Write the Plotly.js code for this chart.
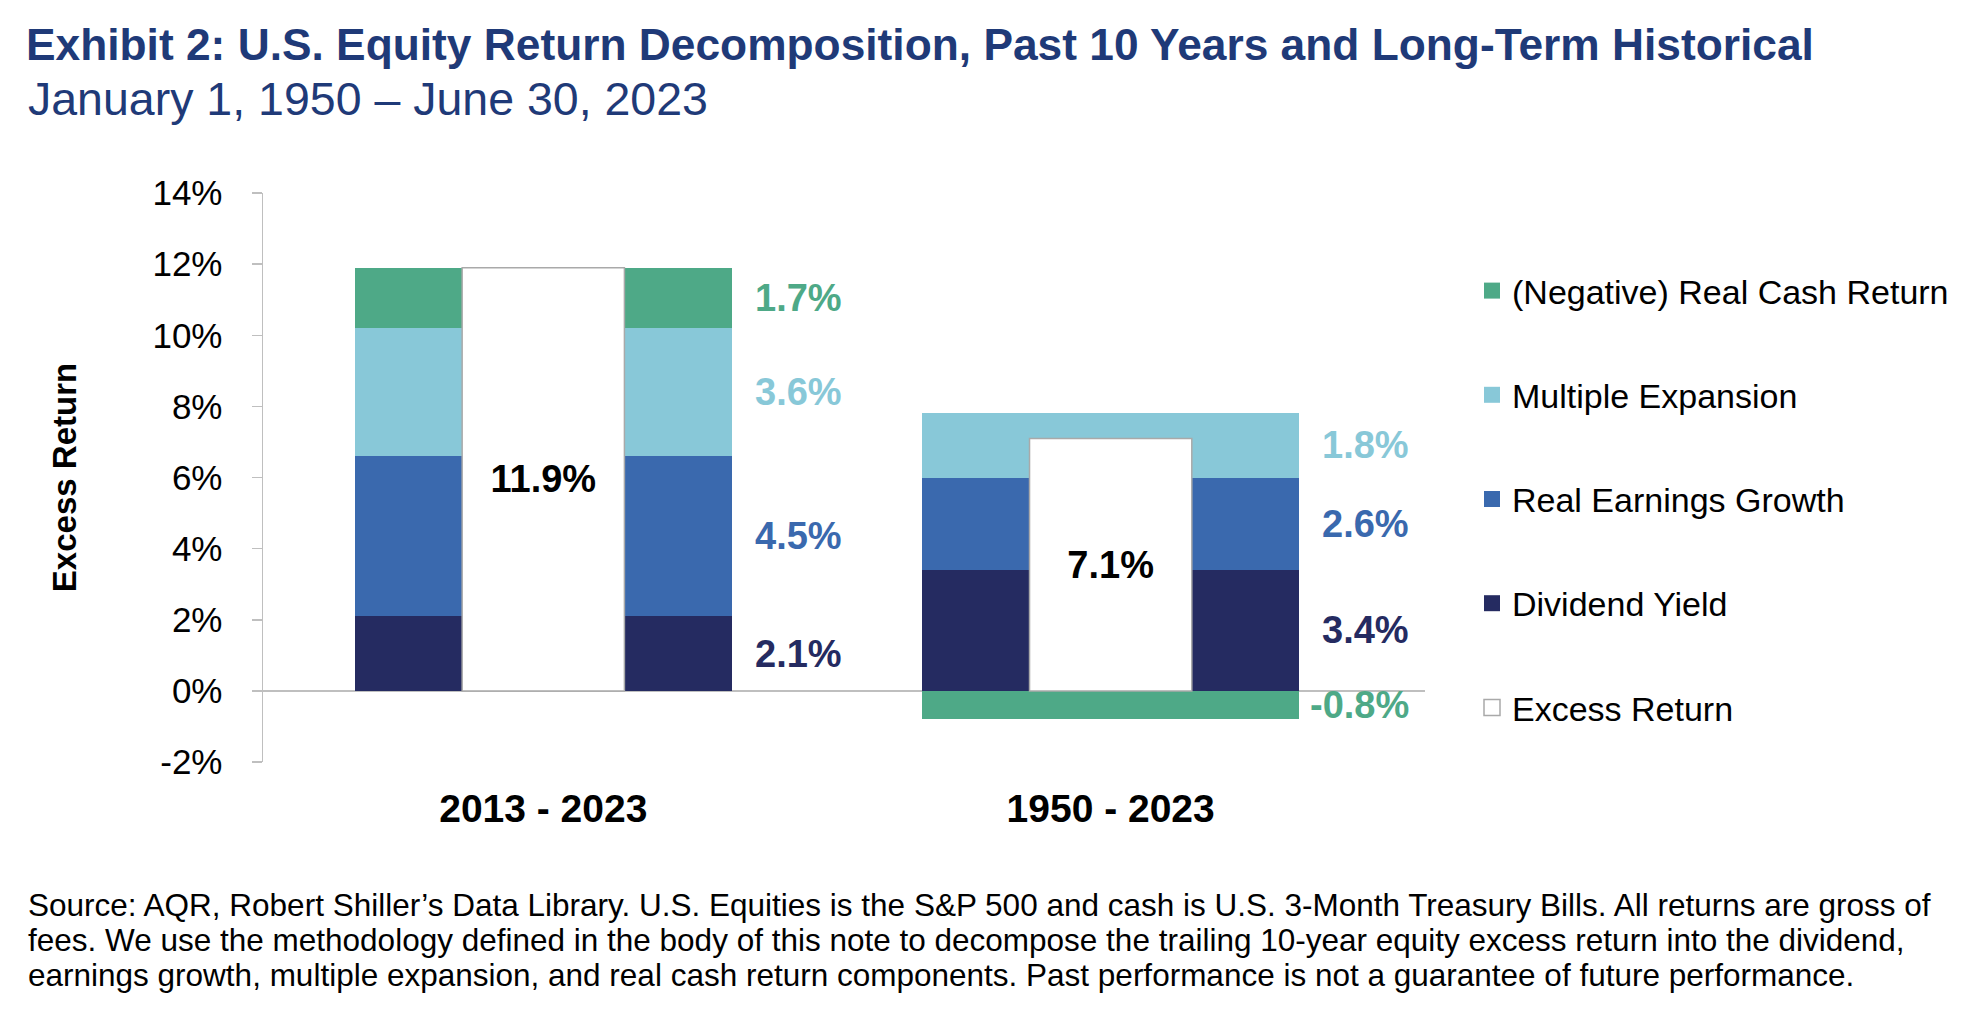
<!DOCTYPE html>
<html>
<head>
<meta charset="utf-8">
<script src="https://cdn.plot.ly/plotly-3.0.1.min.js"></script>
<style>
  html, body { margin: 0; padding: 0; background: #ffffff; }
  #chart { width: 1982px; height: 1020px; }
</style>
</head>
<body>
<div id="chart"></div>
<script>
// ---- Data ----
var categories = ['2013 - 2023', '1950 - 2023'];
var dividendYield = [2.1, 3.4];
var realEarningsGrowth = [4.5, 2.6];
var multipleExpansion = [3.6, 1.8];
var realCashReturn = [1.7, -0.8];
var excessReturn = [11.9, 7.1];
var yTickVals = [-2, 0, 2, 4, 6, 8, 10, 12, 14];
var yTickText = ['-2%', '0%', '2%', '4%', '6%', '8%', '10%', '12%', '14%'];

// ---- Styling ----
var C_CASH = '#4ea987';
var C_MULT = '#88c8d8';
var C_EARN = '#3a69ae';
var C_DIV = '#252b61';
var TITLE_COLOR = '#1f3a78';
var FONT = 'Liberation Sans, Arial, sans-serif';

var W = 1982, H = 1020;
var M = { l: 263, r: 557, t: 193, b: 258 };
var X_RANGE = [-0.494, 1.554];
var FULL_W = 0.664, MID_W = 0.286;
var LABEL_DX = 0.53;
var LABEL_SIZE = 38;

function pxToPaperX(px) { return (px - M.l) / (W - M.l - M.r); }
function pxToPaperY(py) { return (H - M.b - py) / (H - M.t - M.b); }

var xIdx = categories.map(function (c, i) { return i; });

function compTrace(name, vals, color) {
  return {
    type: 'bar', name: name, x: xIdx, y: vals,
    width: vals.map(function () { return FULL_W; }),
    marker: { color: color, line: { width: 0 } },
    showlegend: false, hoverinfo: 'skip', xaxis: 'x', yaxis: 'y'
  };
}

var tDiv = compTrace('Dividend Yield', dividendYield, C_DIV);
var tEarn = compTrace('Real Earnings Growth', realEarningsGrowth, C_EARN);
var tMult = compTrace('Multiple Expansion', multipleExpansion, C_MULT);
var tCash = compTrace('(Negative) Real Cash Return', realCashReturn, C_CASH);

// Excess return bar, overlaid in the middle of each stack (own overlay axis so it does not stack)
var tExcess = {
  type: 'bar', name: 'Excess Return', x: xIdx, y: excessReturn,
  width: excessReturn.map(function () { return MID_W; }),
  marker: { color: '#ffffff', line: { color: '#a9a9a9', width: 1.5 } },
  text: excessReturn.map(function (v) { return v.toFixed(1) + '%'; }),
  textposition: 'inside', insidetextanchor: 'middle', textangle: 0,
  textfont: { family: FONT, size: LABEL_SIZE, color: '#000000', weight: 'bold' },
  showlegend: false, hoverinfo: 'skip', xaxis: 'x2', yaxis: 'y'
};

// legend entries (larger square swatches)
function legendItem(name, color, rank, lineColor) {
  return {
    type: 'scatter', mode: 'markers', name: name, x: [null], y: [null],
    marker: { symbol: 'square', size: 16, color: color,
      line: { color: lineColor || color, width: lineColor ? 1.5 : 0 } },
    legendgroup: name, legendrank: rank, hoverinfo: 'skip'
  };
}
var legendTraces = [
  legendItem('(Negative) Real Cash Return', C_CASH, 1),
  legendItem('Multiple Expansion', C_MULT, 2),
  legendItem('Real Earnings Growth', C_EARN, 3),
  legendItem('Dividend Yield', C_DIV, 4),
  legendItem('Excess Return', '#ffffff', 5, '#a9a9a9')
];

// segment labels to the right of each group
var annotations = [];
categories.forEach(function (c, i) {
  var segs = [
    { v: dividendYield[i], col: C_DIV },
    { v: realEarningsGrowth[i], col: C_EARN },
    { v: multipleExpansion[i], col: C_MULT }
  ];
  var base = 0;
  segs.forEach(function (s) {
    annotations.push({
      x: i + LABEL_DX, y: base + s.v / 2, xref: 'x', yref: 'y',
      text: '<b>' + s.v.toFixed(1) + '%</b>', showarrow: false,
      xanchor: 'right', yanchor: 'middle',
      font: { family: FONT, size: LABEL_SIZE, color: s.col }
    });
    base += s.v;
  });
  var cv = realCashReturn[i];
  var cmid = cv >= 0 ? base + cv / 2 : cv / 2;
  annotations.push({
    x: i + LABEL_DX, y: cmid, xref: 'x', yref: 'y',
    text: '<b>' + cv.toFixed(1) + '%</b>', showarrow: false,
    xanchor: 'right', yanchor: 'middle',
    font: { family: FONT, size: LABEL_SIZE, color: C_CASH }
  });
});

// subtitle
annotations.push({
  xref: 'paper', yref: 'paper', x: pxToPaperX(26), y: pxToPaperY(99),
  xanchor: 'left', yanchor: 'middle', showarrow: false,
  text: 'January 1, 1950 – June 30, 2023',
  font: { family: FONT, size: 46.5, color: TITLE_COLOR }
});

// source note
var sourceLines = [
  'Source: AQR, Robert Shiller’s Data Library. U.S. Equities is the S&P 500 and cash is U.S. 3-Month Treasury Bills. All returns are gross of',
  'fees. We use the methodology defined in the body of this note to decompose the trailing 10-year equity excess return into the dividend,',
  'earnings growth, multiple expansion, and real cash return components. Past performance is not a guarantee of future performance.'
];
var sourceY = [905, 940, 975];
sourceLines.forEach(function (line, k) {
  annotations.push({
    xref: 'paper', yref: 'paper', x: pxToPaperX(26), y: pxToPaperY(sourceY[k]),
    xanchor: 'left', yanchor: 'middle', align: 'left', showarrow: false,
    text: line,
    font: { family: FONT, size: 31.5, color: '#000000' }
  });
});

var layout = {
  width: W, height: H,
  margin: M,
  paper_bgcolor: '#ffffff', plot_bgcolor: '#ffffff',
  barmode: 'relative', bargap: 0,
  font: { family: FONT, color: '#000000' },
  title: {
    text: '<b>Exhibit 2: U.S. Equity Return Decomposition, Past 10 Years and Long-Term Historical</b>',
    font: { family: FONT, size: 44.3, color: TITLE_COLOR },
    x: 26 / W, xanchor: 'left', xref: 'container',
    y: 1 - 44 / H, yanchor: 'middle', yref: 'container'
  },
  xaxis: {
    range: X_RANGE,
    tickvals: xIdx,
    ticktext: categories.map(function (c) { return '<b>' + c + '</b>'; }),
    tickfont: { family: FONT, size: 39, color: '#000000' },
    showgrid: false, zeroline: false, showline: false, ticks: '',
    ticklabelstandoff: 20, fixedrange: true
  },
  xaxis2: {
    overlaying: 'x', range: X_RANGE, visible: false, fixedrange: true
  },
  yaxis: {
    range: [-2, 14],
    tickvals: yTickVals, ticktext: yTickText,
    tickfont: { family: FONT, size: 35, color: '#000000' },
    showgrid: false,
    showline: true, linecolor: '#bfbfbf', linewidth: 1.5,
    ticks: 'outside', ticklen: 10, tickcolor: '#bfbfbf', tickwidth: 1.5,
    ticklabelstandoff: 22,
    zeroline: true, zerolinecolor: '#bfbfbf', zerolinewidth: 1.5,
    title: {
      text: '<b>Excess Return</b>',
      font: { family: FONT, size: 33, color: '#000000' },
      standoff: 66
    },
    fixedrange: true
  },
  legend: {
    x: pxToPaperX(1472), xanchor: 'left',
    y: pxToPaperY(262), yanchor: 'top',
    traceorder: 'grouped', tracegroupgap: 57,
    font: { family: FONT, size: 34, color: '#000000' },
    bgcolor: 'rgba(0,0,0,0)', borderwidth: 0
  },
  annotations: annotations,
  showlegend: true
};

Plotly.newPlot('chart', [tDiv, tEarn, tMult, tCash, tExcess].concat(legendTraces), layout,
  { displayModeBar: false, staticPlot: true });
</script>
</body>
</html>
